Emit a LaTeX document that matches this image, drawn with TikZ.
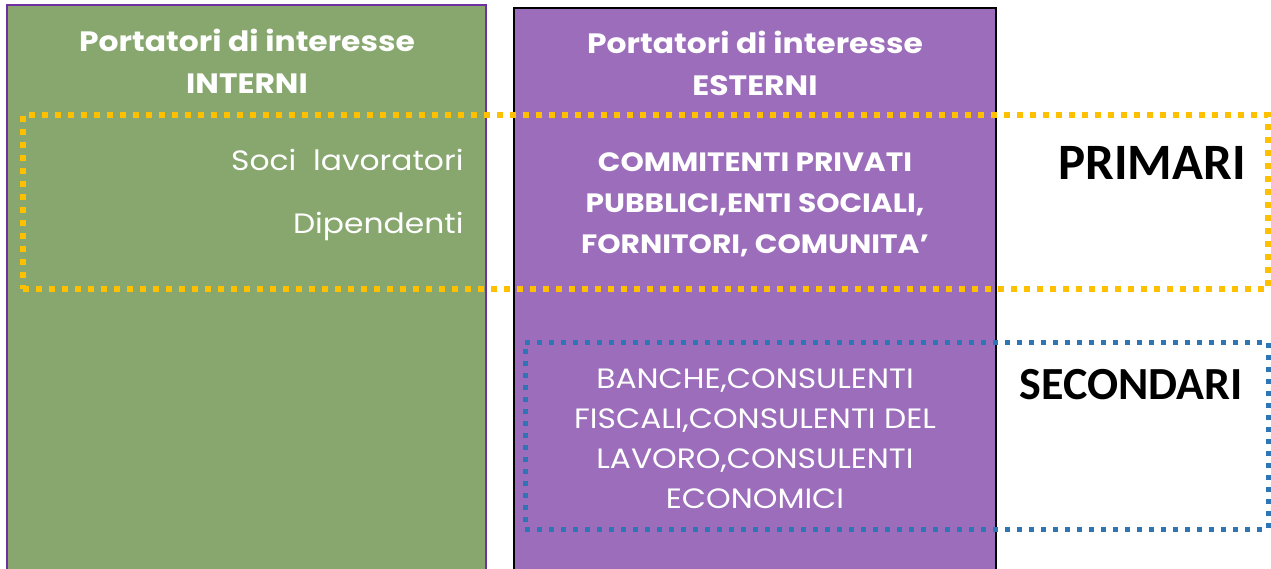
\documentclass[tikz,border=0pt]{standalone}
\usepackage{fontspec}
\setmainfont{Poppins}
\newfontfamily\widefont[FakeStretch=1.12]{Poppins}
\newfontfamily\calib{Carlito}
\definecolor{greenfill}{HTML}{87A76F}
\definecolor{purplefill}{HTML}{9B6DBA}
\definecolor{purpleedge}{HTML}{7030A0}
\definecolor{dotyellow}{HTML}{FFC000}
\definecolor{dotblue}{HTML}{2E75B6}
\tikzset{
  colbox/.style={anchor=north west, inner sep=0pt, outer sep=0pt},
  headtxt/.style={text=white, font=\widefont\bfseries\fontsize{28}{42}\selectfont, align=center},
  lighttxt/.style={text=white, font=\widefont\fontsize{28}{40}\selectfont},
  boldtxt/.style={text=white, font=\widefont\bfseries\fontsize{26.5}{41}\selectfont, align=center},
  sidetxt/.style={text=black, font=\calib\bfseries},
}
\begin{document}
\begin{tikzpicture}[x=1pt,y=-1pt]
\useasboundingbox (0,0) rectangle (1271,569);
\fill[white] (0,0) rectangle (1271,569);
% columns
\node[colbox, fill=greenfill, draw=purpleedge, line width=2pt, minimum width=479pt, minimum height=570pt] (interni) at (7,5) {};
\node[colbox, fill=purplefill, draw=black, line width=2pt, minimum width=482pt, minimum height=570pt] (esterni) at (514,8) {};
% dotted frames
\node[colbox, draw=dotyellow, line width=6pt, dash pattern=on 6pt off 7pt, minimum width=1245pt, minimum height=174pt] (primframe) at (23,115) {};
\node[colbox, draw=dotblue, line width=5pt, dash pattern=on 5pt off 7pt, minimum width=743pt, minimum height=187pt] (secframe) at (525,342) {};
% headers
\node[headtxt] (hint) at (247,61) {Portatori di interesse\\INTERNI};
\node[headtxt] (hest) at (755,63) {Portatori di interesse\\ESTERNI};
% internal
\node[lighttxt, anchor=east] (soci) at (467,160) {Soci\ \ lavoratori};
\node[lighttxt, anchor=east] (dip) at (467,226) {Dipendenti};
% external primary
\node[boldtxt] (comm) at (755,205) {COMMITENTI PRIVATI\\PUBBLICI,ENTI SOCIALI,\\FORNITORI, COMUNITA’};
% external secondary
\node[lighttxt, align=center] (banche) at (755,439) {BANCHE,CONSULENTI\\FISCALI,CONSULENTI DEL\\LAVORO,CONSULENTI\\ECONOMICI};
% side labels
\node[sidetxt, font=\calib\bfseries\fontsize{51}{60}\selectfont] (prim) at (1152,163) {PRIMARI};
\node[sidetxt, font=\calib\bfseries\fontsize{46}{56}\selectfont] (sec) at (1131,385) {SECONDARI};
\end{tikzpicture}
\end{document}
